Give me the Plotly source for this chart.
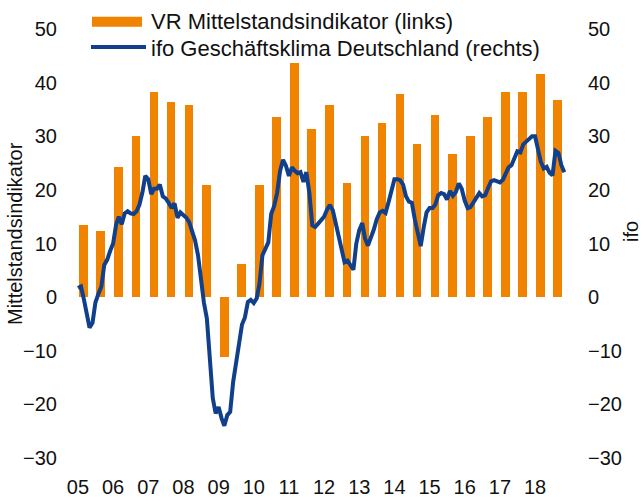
import pandas as pd
import plotly.graph_objects as go

# ---------------- data ----------------
years = list(range(2005, 2019))
year_labels = ["05", "06", "07", "08", "09", "10", "11", "12", "13", "14", "15", "16", "17", "18"]

# VR Mittelstandsindikator, spring / autumn survey per year (left axis)
vr_spring = [13.4, 24.3, 38.2, 35.9, -11.1, 20.9, 43.6, 35.8, 30.1, 37.8, 34.0, 30.1, 38.2, 41.6]
vr_autumn = [12.4, 30.1, 36.3, 20.9, 6.2, 33.6, 31.3, 21.3, 32.4, 28.6, 26.6, 33.6, 38.2, 36.7]

# ifo Geschäftsklima Deutschland, monthly from Jan 2005 (right axis)
ifo_2005 = [1.7, 2.0, -0.2, -3.0, -5.7, -4.8, -1.0, 0.6, 2.0, 6.0, 7.0, 8.6]
ifo_2006 = [10.0, 13.5, 15.0, 13.6, 15.6, 16.0, 15.6, 15.5, 16.0, 17.2, 19.5, 22.6]
ifo_2007 = [22.0, 19.2, 20.2, 20.2, 21.0, 18.8, 18.4, 17.6, 16.6, 17.5, 14.8, 15.8]
ifo_2008 = [15.3, 14.8, 14.0, 12.3, 10.6, 7.8, 3.0, -1.0, -4.0, -12.5, -18.8, -21.7]
ifo_2009 = [-20.5, -22.6, -24.0, -22.0, -21.4, -15.8, -12.3, -7.5, -5.1, -3.8, -0.9, -0.5]
ifo_2010 = [-1.1, -0.2, 2.5, 7.8, 9.0, 10.2, 15.5, 17.0, 19.5, 23.5, 25.6, 24.5]
ifo_2011 = [22.6, 24.2, 23.6, 23.1, 23.3, 21.5, 23.3, 19.5, 13.4, 13.1, 13.7, 14.5]
ifo_2012 = [15.0, 16.3, 17.2, 16.2, 13.8, 11.4, 8.2, 6.5, 6.8, 5.8, 5.1, 10.0]
ifo_2013 = [12.5, 13.8, 11.0, 9.6, 11.0, 12.6, 14.5, 15.8, 16.1, 15.7, 17.7, 19.6]
ifo_2014 = [22.0, 22.0, 21.8, 21.0, 18.8, 17.8, 17.6, 14.5, 12.0, 9.5, 13.0, 15.8]
ifo_2015 = [16.6, 16.6, 17.2, 19.0, 19.4, 19.2, 18.2, 19.8, 18.9, 19.6, 21.2, 20.2]
ifo_2016 = [18.0, 16.6, 16.8, 17.6, 18.3, 19.4, 18.8, 19.0, 20.4, 21.6, 21.8, 21.5]
ifo_2017 = [21.4, 21.9, 23.0, 24.2, 24.6, 25.8, 27.2, 27.0, 28.5, 29.0, 29.6, 30.0]
ifo_2018 = [30.0, 27.5, 25.3, 24.0, 24.3, 23.2, 22.7, 27.3, 26.9, 24.6, 23.3]

ifo = (ifo_2005 + ifo_2006 + ifo_2007 + ifo_2008 + ifo_2009 + ifo_2010 + ifo_2011
       + ifo_2012 + ifo_2013 + ifo_2014 + ifo_2015 + ifo_2016 + ifo_2017 + ifo_2018)

# ---------------- derived ----------------
ifo_dates = pd.date_range("2005-01-01", periods=len(ifo), freq="MS")
bar_dates, bar_vals = [], []
for y, s, a in zip(years, vr_spring, vr_autumn):
    bar_dates += [f"{y}-02-28", f"{y}-08-25"]
    bar_vals += [s, a]
tick_dates = [f"{y}-01-01" for y in years]

ORANGE = "rgb(240,131,0)"
BLUE = "rgb(16,63,140)"
FONT = "Liberation Sans, Arial, sans-serif"

fig = go.Figure()
fig.add_trace(go.Bar(
    x=bar_dates, y=bar_vals, name="VR Mittelstandsindikator (links)",
    marker=dict(color=ORANGE, line=dict(width=0)),
    width=90 * 24 * 3600 * 1000, showlegend=False, yaxis="y",
))
fig.add_trace(go.Scatter(
    x=ifo_dates, y=ifo, name="ifo Geschäftsklima Deutschland (rechts)",
    mode="lines", line=dict(color=BLUE, width=4), showlegend=False, yaxis="y2",
))

L, R, T, B = 62, 63, 29, 39
W, H = 641, 497
pw, ph = W - L - R, H - T - B


def px(xp):
    return (xp - L) / pw


def py(yp):
    return (H - B - yp) / ph


axis_common = dict(range=[-30, 50], dtick=10, tick0=0, showgrid=False, zeroline=False,
                   showline=False, ticks="", automargin=False,
                   tickfont=dict(size=20, color="#111"))

fig.update_layout(
    width=W, height=H,
    margin=dict(l=L, r=R, t=T, b=B, pad=0),
    paper_bgcolor="white", plot_bgcolor="white",
    font=dict(family=FONT, color="#111"),
    showlegend=False,
    bargap=0,
    xaxis=dict(type="date", range=["2004-07-19", "2019-03-23"], tickvals=tick_dates,
               ticktext=year_labels, showgrid=False, zeroline=False, showline=False,
               ticks="", automargin=False, tickfont=dict(size=20, color="#111"),
               ticklabelstandoff=15),
    yaxis=dict(**axis_common, ticklabelstandoff=4),
    yaxis2=dict(**axis_common, overlaying="y", side="right", ticklabelstandoff=9),
    shapes=[
        dict(type="rect", xref="paper", yref="paper", x0=px(92), x1=px(142), y0=py(26.7), y1=py(16.7),
             fillcolor=ORANGE, line=dict(width=0)),
        dict(type="line", xref="paper", yref="paper", x0=px(91), x1=px(146), y0=py(47), y1=py(47),
             line=dict(color=BLUE, width=4)),
    ],
    annotations=[
        dict(text="VR Mittelstandsindikator (links)", xref="paper", yref="paper", x=px(149), y=py(21.5),
             xanchor="left", yanchor="middle", showarrow=False, font=dict(size=22, color="#111")),
        dict(text="ifo Geschäftsklima Deutschland (rechts)", xref="paper", yref="paper", x=px(149), y=py(48),
             xanchor="left", yanchor="middle", showarrow=False, font=dict(size=22, color="#111")),
        dict(text="Mittelstandsindikator", xref="paper", yref="paper", x=px(15), y=py(234),
             xanchor="center", yanchor="middle", textangle=-90, showarrow=False,
             font=dict(size=20, color="#111")),
        dict(text="ifo", xref="paper", yref="paper", x=px(631), y=py(232),
             xanchor="center", yanchor="middle", textangle=-90, showarrow=False,
             font=dict(size=20, color="#111")),
    ],
)

fig.write_html("out.html", config={"displayModeBar": False},
               post_script="document.body.style.margin='0';")
